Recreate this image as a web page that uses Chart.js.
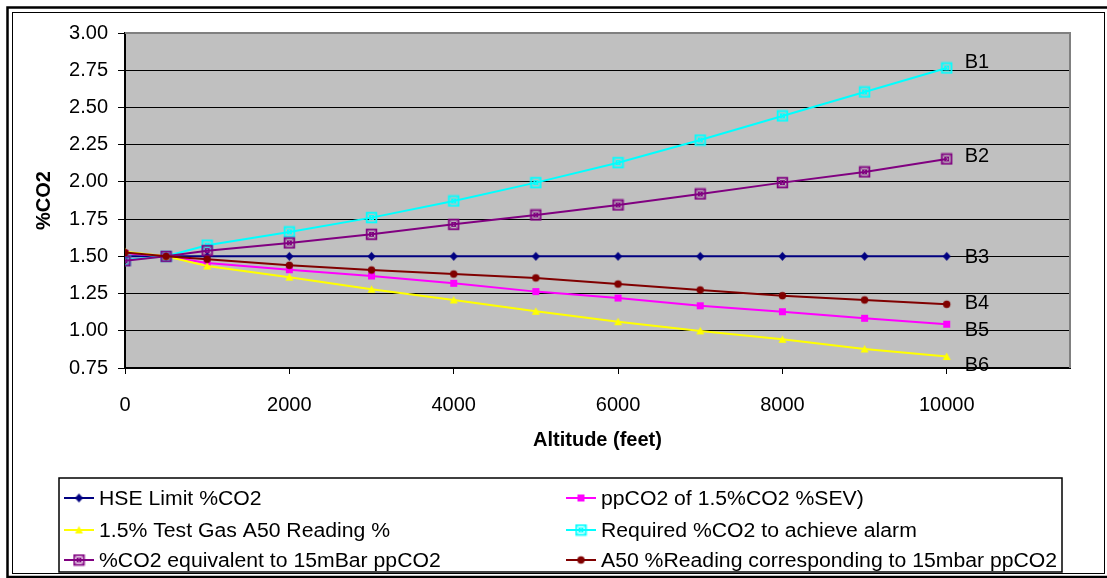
<!DOCTYPE html>
<html>
<head>
<meta charset="utf-8">
<script src="https://cdn.jsdelivr.net/npm/chart.js@4.4.1/dist/chart.umd.min.js"></script>
<style>
  body { margin: 0; background: #fff; }
  #wrap { width: 1107px; height: 578px; }
</style>
</head>
<body>
<div id="wrap"><canvas id="co2Chart" width="1107" height="578"></canvas></div>
<script>
const altitude = [0, 500, 1000, 2000, 3000, 4000, 5000, 6000, 7000, 8000, 9000, 10000];
const hseLimit = [1.50, 1.50, 1.50, 1.50, 1.50, 1.50, 1.50, 1.50, 1.50, 1.50, 1.50, 1.50];
const ppco2Sev = [1.52, 1.50, 1.455, 1.41, 1.368, 1.319, 1.263, 1.22, 1.168, 1.128, 1.084, 1.044];
const testGasReading = [1.53, 1.50, 1.435, 1.36, 1.279, 1.207, 1.131, 1.061, 0.999, 0.943, 0.878, 0.827];
const requiredCo2 = [1.475, 1.50, 1.575, 1.664, 1.760, 1.872, 1.995, 2.129, 2.281, 2.443, 2.604, 2.765];
const co2Equivalent = [1.47, 1.50, 1.538, 1.59, 1.648, 1.715, 1.778, 1.845, 1.919, 1.995, 2.067, 2.154];
const a50Reading = [1.525, 1.50, 1.48, 1.44, 1.408, 1.381, 1.355, 1.314, 1.274, 1.236, 1.207, 1.178];

const seriesNames = [
  'HSE Limit %CO2',
  'ppCO2 of 1.5%CO2 %SEV)',
  '1.5% Test Gas A50 Reading %',
  'Required %CO2 to achieve alarm',
  '%CO2 equivalent to 15mBar ppCO2',
  'A50 %Reading corresponding to 15mbar ppCO2'
];
const endLabels = ['B3', 'B5', 'B6', 'B1', 'B2', 'B4'];
const xTicks = [0, 2000, 4000, 6000, 8000, 10000];

const FONT = '"Liberation Sans", Arial, sans-serif';

// little canvases used as point styles (and reused in the legend)
function makeMarker(shape, color) {
  const c = document.createElement('canvas');
  c.width = 13; c.height = 13;
  const g = c.getContext('2d');
  g.fillStyle = color;
  g.strokeStyle = color;
  const m = 6.5;
  if (shape === 'diamond') {
    g.beginPath();
    g.moveTo(m, m - 4.5); g.lineTo(m + 4, m); g.lineTo(m, m + 4.5); g.lineTo(m - 4, m);
    g.closePath(); g.fill();
  } else if (shape === 'square') {
    g.fillRect(m - 3.5, m - 3.5, 7, 7);
  } else if (shape === 'triangle') {
    g.beginPath();
    g.moveTo(m, m - 4); g.lineTo(m + 4, m + 3.5); g.lineTo(m - 4, m + 3.5);
    g.closePath(); g.fill();
  } else if (shape === 'circle') {
    g.beginPath(); g.arc(m, m, 3.7, 0, Math.PI * 2); g.fill();
  } else if (shape === 'boxX') {
    g.lineWidth = 1.8;
    g.strokeRect(m - 4.8, m - 4.8, 9.6, 9.6);
    g.lineWidth = 1;
    g.strokeRect(m - 2, m - 2, 4, 4);
    g.beginPath();
    g.moveTo(m - 3, m - 3); g.lineTo(m + 3, m + 3);
    g.moveTo(m + 3, m - 3); g.lineTo(m - 3, m + 3);
    g.stroke();
  }
  return c;
}

const colors = ['#000080', '#FF00FF', '#FFFF00', '#00FFFF', '#800080', '#800000'];
const shapes = ['diamond', 'square', 'triangle', 'boxX', 'boxX', 'circle'];
const values = [hseLimit, ppco2Sev, testGasReading, requiredCo2, co2Equivalent, a50Reading];

const datasets = values.map((vals, i) => ({
  label: seriesNames[i],
  data: altitude.map((a, j) => ({ x: a, y: vals[j] })),
  borderColor: colors[i],
  backgroundColor: colors[i],
  borderWidth: 2,
  pointStyle: makeMarker(shapes[i], colors[i]),
  pointRadius: 5,
  tension: 0,
  order: values.length - i   // later series drawn on top, like Excel
}));

const framePlugin = {
  id: 'frame',
  beforeDraw(chart) {
    const ctx = chart.ctx;
    const a = chart.chartArea;
    ctx.save();
    ctx.fillStyle = '#fff';
    ctx.fillRect(0, 0, chart.width, chart.height);
    ctx.strokeStyle = '#000';
    ctx.lineWidth = 2.5;
    ctx.strokeRect(7.5, 7.5, 1110, 569.5);
    ctx.lineWidth = 1;
    ctx.strokeRect(12.5, 12.5, 1092, 561);
    ctx.fillStyle = '#C0C0C0';
    ctx.fillRect(a.left, a.top, a.right - a.left, a.bottom - a.top);
    ctx.restore();
  },
  beforeDatasetsDraw(chart) {
    const ctx = chart.ctx;
    const a = chart.chartArea;
    ctx.save();
    ctx.strokeStyle = '#808080';
    ctx.lineWidth = 2;
    ctx.beginPath();
    ctx.moveTo(a.left, a.top);
    ctx.lineTo(a.right, a.top);
    ctx.lineTo(a.right, a.bottom);
    ctx.stroke();
    ctx.restore();
  }
};

const endLabelPlugin = {
  id: 'endLabels',
  afterDatasetsDraw(chart, args, opts) {
    const ctx = chart.ctx;
    ctx.save();
    ctx.font = '20px ' + FONT;
    ctx.fillStyle = '#000';
    ctx.textBaseline = 'middle';
    chart.data.datasets.forEach((ds, i) => {
      const pts = chart.getDatasetMeta(i).data;
      const last = pts[pts.length - 1];
      ctx.fillText(endLabels[i], last.x + 18, last.y + opts.shift[i]);
    });
    ctx.restore();
  }
};

const boxLegendPlugin = {
  id: 'boxLegend',
  afterDraw(chart, args, opts) {
    const ctx = chart.ctx;
    ctx.save();
    ctx.strokeStyle = '#000';
    ctx.lineWidth = 1.5;
    ctx.strokeRect(opts.left, opts.top, opts.width, opts.height);
    ctx.font = opts.fontSize + 'px ' + FONT;
    ctx.textBaseline = 'middle';
    ctx.fillStyle = '#000';
    chart.data.datasets.forEach((ds, i) => {
      const col = i % 2, row = Math.floor(i / 2);
      const x = opts.cols[col];
      const y = opts.rows[row];
      ctx.strokeStyle = ds.borderColor;
      ctx.lineWidth = 2;
      ctx.beginPath();
      ctx.moveTo(x, y); ctx.lineTo(x + 30, y);
      ctx.stroke();
      const img = ds.pointStyle;
      ctx.drawImage(img, x + 15 - img.width / 2, y - img.height / 2);
      // the reference text is a little wider than plain Arial
      ctx.save();
      ctx.translate(x + 35, y + 1);
      ctx.scale(opts.stretch, 1);
      ctx.fillText(ds.label, 0, 0);
      ctx.restore();
    });
    ctx.restore();
  }
};

new Chart(document.getElementById('co2Chart'), {
  type: 'line',
  data: { datasets },
  plugins: [framePlugin, endLabelPlugin, boxLegendPlugin],
  options: {
    responsive: false,
    devicePixelRatio: 1,
    animation: false,
    layout: { padding: { left: 14, right: 37, top: 33, bottom: 120 } },
    plugins: {
      legend: { display: false },
      tooltip: { enabled: false },
      endLabels: { shift: [1, 6, 9, -6, -2, -1] },
      boxLegend: {
        left: 59, top: 478, width: 1003, height: 94,
        cols: [64, 566], rows: [498, 530, 560], fontSize: 20, stretch: 1.06
      }
    },
    scales: {
      x: {
        type: 'linear',
        min: 0,
        max: 11500,
        afterBuildTicks: (scale) => { scale.ticks = xTicks.map(v => ({ value: v })); },
        afterFit: (scale) => { scale.height = 90; },
        grid: { drawOnChartArea: false, drawTicks: true, tickLength: 6, color: '#000' },
        border: { display: true, color: '#000', width: 2 },
        ticks: {
          color: '#000', padding: 19, maxRotation: 0,
          font: { family: FONT, size: 20 },
          callback: (v) => String(v)
        },
        title: {
          display: true, text: 'Altitude (feet)', color: '#000',
          font: { family: FONT, size: 20, weight: 'bold' }, padding: { top: 0, bottom: 6 }
        }
      },
      y: {
        min: 0.75,
        max: 3.0,
        afterFit: (scale) => { scale.width = 111; },
        grid: { color: '#000', lineWidth: 1, tickLength: 7 },
        border: { display: true, color: '#000', width: 2 },
        ticks: {
          stepSize: 0.25, color: '#000', padding: 10,
          font: { family: FONT, size: 20 },
          callback: (v) => v.toFixed(2)
        },
        title: {
          display: true, text: '%CO2', color: '#000',
          font: { family: FONT, size: 20, weight: 'bold' }, padding: { top: 18, bottom: 0 }
        }
      }
    }
  }
});
</script>
</body>
</html>
